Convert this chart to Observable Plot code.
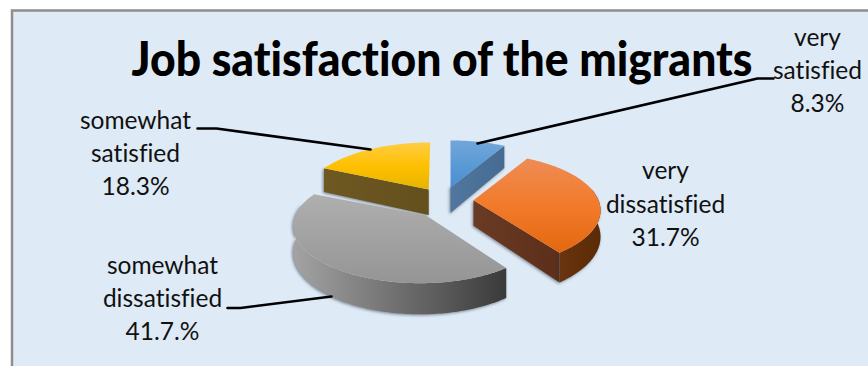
<!DOCTYPE html>
<html>
<head>
<meta charset="utf-8">
<script src="https://cdn.jsdelivr.net/npm/d3@7"></script>
<script src="https://cdn.jsdelivr.net/npm/@observablehq/plot@0.6"></script>
<style>
  html, body { margin: 0; padding: 0; background: #fff; overflow: hidden; }
  svg { display: block; }
  text { font-variant-ligatures: none; }
  g[fill*="wall"] { filter: drop-shadow(-1px 1px 1.5px rgba(40, 50, 60, .55)); }
</style>
</head>
<body>
<script>
// Survey results, clockwise from twelve o'clock
const categories = ["very satisfied", "very dissatisfied", "somewhat dissatisfied", "somewhat satisfied"];
const shares = [8.3, 31.7, 41.7, 18.3];
const nameLines = ["very\nsatisfied", "very\ndissatisfied", "somewhat\ndissatisfied", "somewhat\nsatisfied"];
const valueLabels = ["8.3%", "31.7%", "41.7.%", "18.3%"];
const chartTitle = "Job satisfaction of the migrants";

// Colour ramps per slice: top face and side walls
const topColors = [
  ["#72a6da", "#5b9bd5", "#4a8fd0"],
  ["#ee8c55", "#f27a2a", "#e3680f"],
  ["#afafaf", "#a2a2a2", "#959595"],
  ["#ffcd45", "#ffc000", "#e6b400"]
];
const wallColors = [
  ["#52779f", "#466b93"],
  ["#6a3a24", "#5c2f1a"],
  ["#a0a0a0", "#3b3b3b"],
  ["#6f5822", "#63501c"]
];
const rimColors = [null, ["#6a3410", "#592b06"], ["#a3a3a3", "#3a3a3a"], null];

// Label and leader placement on the page
const labelAnchors = [[817, 68], [665, 201.5], [162, 296], [135, 151]];
const leaders = [
  [[773, 78], [757, 78], [477, 143]],
  [],
  [[227, 307.5], [240, 307.5], [331, 296]],
  [[197, 128], [216, 128], [370, 149]]
];

// Perspective pie geometry, with small per-slice adjustments of the apex and rim
const pie = {cx: 444, cy: 202.5, radius: 125, tilt: 0.444, perspective: 0.18, explode: 29, depth: 25.5};
const apexNudge = [[-1.5, 0], [0, -2], [0, 0], [0, 0]];
const rimNudge = [0, 0, -6, 1.5];

const rad = d => d * Math.PI / 180;

function project(theta) {
  const X = Math.sin(theta), Y = Math.cos(theta);
  const s = 1 / (1 + pie.perspective * Y);
  return {x: pie.radius * X * s, y: -pie.radius * pie.tilt * Y * s, drop: pie.depth * s};
}

const total = d3.sum(shares);
let running = 0;
const slices = shares.map((v, i) => {
  const a0 = running / total * 2 * Math.PI;
  running += v;
  const a1 = running / total * 2 * Math.PI;
  const mid = (a0 + a1) / 2;
  return {
    i, a0, a1,
    ox: pie.cx + pie.explode * Math.sin(mid) + apexNudge[i][0],
    oy: pie.cy - pie.explode * pie.tilt * 1.25 * Math.cos(mid) + apexNudge[i][1],
    shift: rimNudge[i]
  };
});

function rimPoints(s, from, to, lowered = false) {
  const n = Math.max(2, Math.ceil((to - from) / rad(1)));
  return d3.range(n + 1).map(k => {
    const p = project(from + (to - from) * k / n);
    return [s.ox + s.shift + p.x, s.oy + p.y + (lowered ? p.drop : 0)];
  });
}

function topFace(s) {
  return [[s.ox, s.oy], ...rimPoints(s, s.a0, s.a1)];
}

function radialWall(s, theta) {
  const p = project(theta);
  return [
    [s.ox, s.oy],
    [s.ox + s.shift + p.x, s.oy + p.y],
    [s.ox + s.shift + p.x, s.oy + p.y + p.drop],
    [s.ox, s.oy + pie.depth]
  ];
}

function outerWall(s) {
  const from = Math.max(s.a0, rad(78)), to = Math.min(s.a1, rad(282));
  if (from >= to) return null;
  return [...rimPoints(s, from, to), ...rimPoints(s, from, to, true).reverse()];
}

const face = (pts, fill) => Plot.line(pts, {x: d => d[0], y: d => d[1], fill, stroke: "none"});

// Slices are painted back to front
const sliceMarks = [0, 3, 1, 2].flatMap(i => {
  const s = slices[i];
  const marks = [];
  if (Math.sin(s.a0) < -1e-6) marks.push(face(radialWall(s, s.a0), `url(#wall${i})`));
  if (Math.sin(s.a1) > 1e-6) marks.push(face(radialWall(s, s.a1), `url(#wall${i})`));
  const rim = outerWall(s);
  if (rim) marks.push(face(rim, `url(#rimwall${i})`));
  marks.push(face(topFace(s), `url(#top${i})`));
  return marks;
});

// Gradient definitions used by the slice faces
function gradients() {
  const defs = d3.create("svg:defs");
  const add = (id, colors, horizontal) => {
    const g = defs.append("linearGradient").attr("id", id)
      .attr("x1", 0).attr("y1", 0)
      .attr("x2", horizontal ? 1 : 0).attr("y2", horizontal ? 0 : 1);
    colors.forEach((c, k) => g.append("stop")
      .attr("offset", k / (colors.length - 1)).attr("stop-color", c));
  };
  topColors.forEach((c, i) => add(`top${i}`, c, false));
  wallColors.forEach((c, i) => add(`wall${i}`, c, true));
  rimColors.forEach((c, i) => { if (c) add(`rimwall${i}`, c, true); });
  return defs.node();
}

const labelRows = categories.map((name, i) => ({
  name,
  text: `${nameLines[i]}\n${valueLabels[i]}`,
  x: labelAnchors[i][0],
  y: labelAnchors[i][1]
}));

const chart = Plot.plot({
  width: 868,
  height: 366,
  margin: 0,
  style: {background: "#fff", overflow: "hidden"},
  x: {domain: [0, 868], range: [0, 868], axis: null},
  y: {domain: [0, 366], range: [0, 366], axis: null},
  marks: [
    gradients,
    Plot.rect([{}], {x1: () => 12, x2: () => 900, y1: () => 10.5, y2: () => 400, fill: "#deeaf6", stroke: "#8e8e8e", strokeWidth: 2.5}),
    ...sliceMarks,
    ...leaders.filter(l => l.length).map(l =>
      Plot.line(l, {x: d => d[0], y: d => d[1], stroke: "#000", strokeWidth: 2.6, strokeLinejoin: "round"})),
    Plot.text([chartTitle], {
      x: () => 441.5, y: () => 60,
      text: d => d,
      fontFamily: "Lato",
      fontWeight: 900,
      fontSize: 48,
      fill: "#000"
    }),
    Plot.text(labelRows, {
      x: "x", y: "y", text: "text",
      textAnchor: "middle",
      lineAnchor: "middle",
      lineHeight: 1.36,
      fontFamily: "Lato",
      fontSize: 24.5,
      fill: "#111"
    })
  ]
});
document.body.appendChild(chart);

// The heading is set condensed to span its measured width
d3.select(chart).selectAll("text")
  .filter(function () { return this.textContent === chartTitle; })
  .attr("textLength", 621)
  .attr("lengthAdjust", "spacingAndGlyphs");
</script>
</body>
</html>
